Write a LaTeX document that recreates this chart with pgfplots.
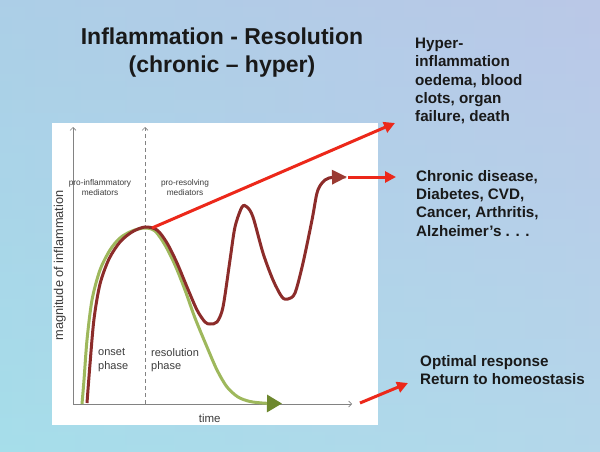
\documentclass[border=0pt]{standalone}
\usepackage{fontspec}
\setmainfont{Liberation Sans}
\usepackage{pgfplots}
\pgfplotsset{compat=1.18}
\usetikzlibrary{arrows.meta}
\definecolor{bgtop}{RGB}{180,188,228}
\definecolor{bgbot}{RGB}{166,222,234}
\definecolor{bgmid}{RGB}{192,210,235}
\definecolor{lgreen}{RGB}{158,184,92}
\definecolor{dgreen}{RGB}{110,136,46}
\definecolor{maroon}{RGB}{140,44,42}
\definecolor{maroonhead}{RGB}{155,58,50}
\definecolor{brightred}{RGB}{236,40,26}
\definecolor{axgray}{RGB}{130,130,130}
\definecolor{txtgray}{RGB}{60,60,60}
\begin{document}
\begin{tikzpicture}[x=1pt,y=1pt]
% background
\shade[top color=bgtop, bottom color=bgbot] (0,0) rectangle (600,451);
\shade[left color=bgbot, right color=bgmid, opacity=0.55] (0,0) rectangle (600,451);
\fill[white] (52,26) rectangle (378,328);
% title
\node[font=\bfseries\fontsize{23}{28}\selectfont, align=center, text=black!90] at (222,398)
  {Inflammation - Resolution\\(chronic -- hyper)};
% right texts
\node[font=\bfseries\fontsize{15.2}{18.3}\selectfont, align=left, anchor=north west, inner sep=0, text=black!90] at (415,413)
  {Hyper-\\inflammation\\oedema, blood\\clots, organ\\failure, death};
\node[font=\bfseries\fontsize{15.2}{18.3}\selectfont, align=left, anchor=north west, inner sep=0, text=black!90] at (416,281)
  {Chronic disease,\\Diabetes, CVD,\\Cancer, Arthritis,\\Alzheimer's . . .};
\node[font=\bfseries\fontsize{15.2}{18.3}\selectfont, align=left, anchor=north west, inner sep=0, text=black!90] at (420,96)
  {Optimal response\\Return to homeostasis};
\begin{axis}[
  at={(73,47)}, anchor=south west,
  scale only axis, width=279pt, height=277pt,
  xmin=0, xmax=279, ymin=0, ymax=277,
  axis lines=left,
  axis line style={draw=axgray, line width=0.7pt, -{Straight Barb[length=3pt,width=6pt]}},
  xtick=\empty, ytick=\empty,
  clip=false,
  xlabel={time}, ylabel={magnitude of inflammation},
  xlabel style={at={(axis description cs:0.49,0)}, anchor=center, yshift=-14pt, font=\fontsize{11.5}{13}\selectfont, text=txtgray},
  ylabel style={at={(axis description cs:-0.047,0.5)}, anchor=center, font=\fontsize{12.8}{14}\selectfont, text=txtgray},
]
% dashed divider
\addplot[draw=axgray, line width=0.7pt, dash pattern=on 4pt off 3pt, -{Straight Barb[length=3pt,width=6pt]}] coordinates {(72,0) (72,277)};
% green (optimal) curve
\addplot[draw=lgreen, line width=3pt, smooth, tension=0.5, -{Triangle[length=15pt,width=17pt,color=dgreen]}] coordinates {
 (9,0) (11,24) (14,64) (19,104) (27,134) (37,154) (47,166) (59,173) (72,176) (82,173) (92,159) (102,139) (112,114) (122,86) (134,57) (144,34) (154,17) (165,7) (177,2.5) (192,0.8) (209,0.5)
};
% maroon (chronic) curve
\addplot[draw=maroon, line width=3pt, smooth, tension=0.5, -{Triangle[length=15pt,width=14pt,color=maroonhead]}] coordinates {
 (14,1) (17,40) (21,85) (27,120) (36,145) (47,162) (59,172) (72,177) (84,174) (94,161) (104,141) (114,117) (124,94) (132,82) (137,80) (144,82) (150,97) (157,144) (162,177) (169,197) (174,197) (180,187) (190,151) (200,124) (209,107) (215,105) (222,111) (230,141) (239,184) (244,211) (249,221) (256,226) (274,227)
};
% bright red arrows
\addplot[draw=brightred, line width=3pt, -{Triangle[length=11pt,width=11pt]}] coordinates {(79,176) (322,281)};
\addplot[draw=brightred, line width=3pt, -{Triangle[length=11pt,width=11pt]}] coordinates {(275,227) (323,227)};
\addplot[draw=brightred, line width=3pt, -{Triangle[length=11pt,width=11pt]}] coordinates {(287,1) (335,21)};
% in-chart texts
\node[font=\fontsize{8.3}{10}\selectfont, align=center, text=txtgray] at (axis cs:27,216) {pro-inflammatory\\mediators};
\node[font=\fontsize{8.3}{10}\selectfont, align=center, text=txtgray] at (axis cs:112,216) {pro-resolving\\mediators};
\node[font=\fontsize{11}{13.5}\selectfont, align=left, anchor=west, inner sep=0, text=txtgray] at (axis cs:25,44) {onset\\phase};
\node[font=\fontsize{11}{13.5}\selectfont, align=left, anchor=west, inner sep=0, text=txtgray] at (axis cs:78,44) {resolution\\phase};
\end{axis}
\pgfresetboundingbox
\path[use as bounding box] (0,0) rectangle (600,451);
\end{tikzpicture}
\end{document}
